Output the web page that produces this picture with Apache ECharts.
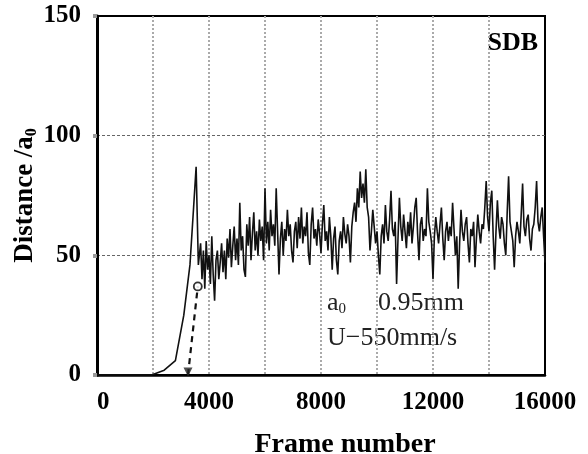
<!DOCTYPE html>
<html><head><meta charset="utf-8">
<script src="https://cdn.jsdelivr.net/npm/echarts@6/dist/echarts.min.js"></script>
<style>html,body{margin:0;padding:0;background:#fff}#c{width:588px;height:454px}</style>
</head><body><div id="c"></div>
<script>
// solid trace: frame number vs distance / a0
const frames = [0,1000,1950,2400,2800,3100,3320,3450,3540,3620,
3700,3750,3800,3850,3900,3950,4000,
4050,4100,4150,4200,4250,4300,4350,4400,4450,4500,4550,4600,4650,4700,4750,4800,4850,4900,4950,5000,
5050,5100,5150,5200,5250,5300,5350,5400,5450,5500,5550,5600,5650,5700,5750,5800,5850,5900,5950,6000,
6050,6100,6150,6200,6250,6300,6350,6400,6450,6500,6550,6600,6650,6700,6750,6800,6850,6900,6950,7000,
7050,7100,7150,7200,7250,7300,7350,7400,7450,7500,7550,7600,7650,7700,7750,7800,7850,7900,7950,8000,
8050,8100,8150,8200,8250,8300,8350,8400,8450,8500,8550,8600,8650,8700,8750,8800,8850,8900,8950,9000,
9050,9100,9150,9200,9250,9300,9350,9400,9450,9500,9550,9600,9650,9700,9750,9800,9850,9900,9950,10000,
10050,10100,10150,10200,10250,10300,10350,10400,10450,10500,10550,10600,10650,10700,10750,10800,10850,10900,10950,11000,
11050,11100,11150,11200,11250,11300,11350,11400,11450,11500,11550,11600,11650,11700,11750,11800,11850,11900,11950,12000,
12050,12100,12150,12200,12250,12300,12350,12400,12450,12500,12550,12600,12650,12700,12750,12800,12850,12900,12950,13000,
13050,13100,13150,13200,13250,13300,13350,13400,13450,13500,13550,13600,13650,13700,13750,13800,13850,13900,13950,14000,
14050,14100,14150,14200,14250,14300,14350,14400,14450,14500,14550,14600,14650,14700,14750,14800,14850,14900,14950,15000,
15050,15100,15150,15200,15250,15300,15350,15400,15450,15500,15550,15600,15650,15700,15750,15800,15850,15900,15950,16000];
const distance = [0,0,0,2,6,25,46,70,87,46,
55,40,52,36,56,44,50,
38,58,42,31,48,52,40,47,55,43,52,40,57,49,61,45,54,62,48,57,
46,72,52,58,44,41,63,54,66,48,59,68,52,60,50,65,56,62,48,78,
55,64,52,69,58,63,54,78,60,42,57,64,50,61,56,69,58,63,52,47,
60,64,53,66,57,70,55,62,58,68,51,46,63,70,57,61,54,65,59,51,
63,71,56,60,52,66,58,44,57,62,48,42,56,60,53,66,59,55,63,58,
47,62,68,72,64,78,70,85,74,80,72,86,70,66,52,60,69,62,55,60,
50,42,58,63,55,71,60,56,65,77,61,58,64,38,57,74,62,56,67,60,
53,64,58,68,55,62,70,74,59,48,63,66,56,61,58,78,64,60,55,40,
58,66,60,55,63,70,57,48,60,64,56,62,58,72,61,50,58,36,55,69,
60,56,63,66,55,47,61,58,64,45,57,67,60,55,63,61,70,81,66,60,
72,77,58,44,60,73,62,57,66,63,55,50,68,83,64,60,56,45,58,64,
60,55,67,80,62,58,65,67,57,52,61,63,70,81,64,60,66,70,58,47];
// dashed fit line and its markers
const dashFrames = [3250, 3600];
const dashDist = [0, 37];
const xTickLabels = [0, 4000, 8000, 12000, 16000];
const yTickLabels = [0, 50, 100, 150];

const chart = echarts.init(document.getElementById('c'), null, {renderer:'canvas'});
const serif = '"Liberation Serif","DejaVu Serif",serif';
chart.setOption({
  backgroundColor:'#fff',
  animation:false,
  grid:{left:97,right:43,top:16,bottom:79,outerBoundsMode:'none',containLabel:false,
    show:true,borderColor:'#000',borderWidth:2,backgroundColor:'transparent'},
  xAxis:{type:'value',min:0,max:16000,interval:2000,
    axisLine:{show:true,lineStyle:{color:'#000',width:2.5}},
    axisTick:{show:false},
    splitLine:{show:true,showMinLine:false,showMaxLine:false,lineStyle:{color:'#aaa',type:[2,2],width:2}},
    axisLabel:{margin:15,color:'#000',fontFamily:serif,fontWeight:'bold',fontSize:25,alignMinLabel:'left',
      formatter:v=>xTickLabels.indexOf(v)>=0?String(v):''},
    name:'Frame number',nameLocation:'middle',nameGap:56,nameMoveOverlap:false,
    nameTextStyle:{color:'#000',fontFamily:serif,fontWeight:'bold',fontSize:28,padding:[0,0,0,48]}
  },
  yAxis:{type:'value',min:0,max:150,interval:50,
    axisLine:{show:true,lineStyle:{color:'#000',width:3}},
    axisTick:{show:true,length:4,lineStyle:{color:'#999',width:4}},
    splitLine:{show:true,showMinLine:false,showMaxLine:false,lineStyle:{color:'#666',type:[3,2],width:1}},
    axisLabel:{margin:16,color:'#000',fontFamily:serif,fontWeight:'bold',fontSize:25,
      formatter:v=>yTickLabels.indexOf(v)>=0?String(v):''},
    name:'{n|Distance /a}{s|0}',nameLocation:'middle',nameGap:57,nameMoveOverlap:false,
    nameTextStyle:{rich:{
      n:{color:'#000',fontFamily:serif,fontWeight:'bold',fontSize:27},
      s:{color:'#000',fontFamily:serif,fontWeight:'bold',fontSize:16,padding:[14,0,0,0]}}}
  },
  series:[
    {type:'line',data:frames.map((f,i)=>[f,distance[i]]),showSymbol:false,
      lineStyle:{color:'#111',width:1.6},z:3},
    {type:'line',data:dashFrames.map((f,i)=>[f,dashDist[i]]),showSymbol:false,
      lineStyle:{color:'#111',width:2.2,type:[6,5]},z:4},
    {type:'scatter',data:[[dashFrames[1],dashDist[1]]],symbol:'circle',symbolSize:8,
      itemStyle:{color:'#fff',borderColor:'#000',borderWidth:1.8},z:5},
    {type:'scatter',data:[[dashFrames[0],dashDist[0]]],symbol:'triangle',symbolRotate:180,symbolSize:9,symbolOffset:[0,-3],
      itemStyle:{color:'#222'},z:5}
  ],
  graphic:[
    {type:'text',right:50,top:30,style:{text:'SDB',fill:'#000',font:'bold 26px '+serif}},
    {type:'text',left:327,top:290,style:{text:'{a|a}{s|0}{g|}{a|0.95mm}',
      rich:{a:{fill:'#222',fontFamily:serif,fontSize:26},s:{fill:'#222',fontFamily:serif,fontSize:15,padding:[13,0,0,0]},g:{width:32}}}},
    {type:'text',left:327,top:325,style:{text:'U\u2212550mm/s',fill:'#222',font:'26px '+serif}}
  ]
});
</script></body></html>
